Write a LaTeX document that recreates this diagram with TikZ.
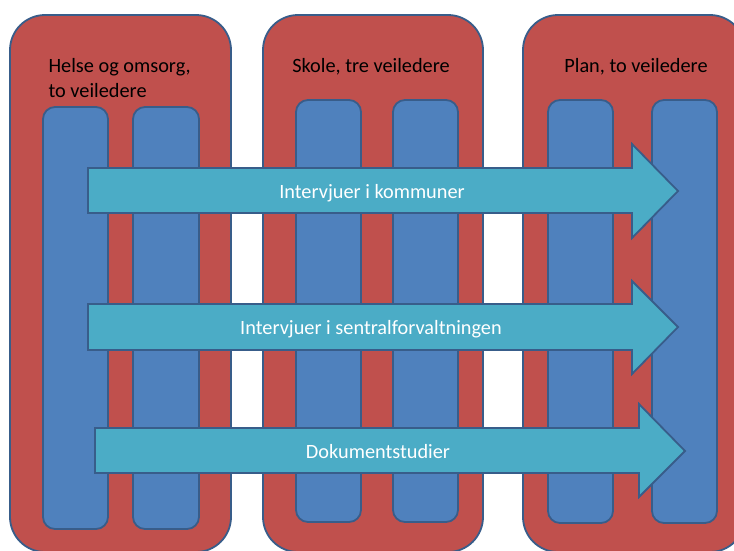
\documentclass[tikz,border=0pt]{standalone}
\usepackage{fontspec}
\setmainfont{Carlito}
\definecolor{cred}{HTML}{C0504D}
\definecolor{cblue}{HTML}{4F81BD}
\definecolor{ccyan}{HTML}{4BACC6}
\definecolor{cline}{HTML}{385D8A}
\begin{document}
\begin{tikzpicture}[x=1pt,y=-1pt,
  redbox/.style={fill=cred,draw=cline,line width=1.8pt,rounded corners=35pt},
  bluebox/.style={fill=cblue,draw=cline,line width=1.8pt,rounded corners=12pt},
  arrowshape/.style={fill=ccyan,draw=cline,line width=1.8pt,line join=miter},
  head/.style={font=\fontsize{20.3}{25}\selectfont,text=black,anchor=base},
  atext/.style={font=\fontsize{20.3}{25}\selectfont,text=white,anchor=base}]
\useasboundingbox (0,0) rectangle (734,550);
\clip (0,0) rectangle (734,550);
% red groups
\draw[redbox] (10,15) rectangle (231,552);
\draw[redbox] (263,15) rectangle (483,552);
\draw[redbox] (523,15) rectangle (745,552);
% blue columns
\draw[bluebox] (43,107) rectangle (108,529);
\draw[bluebox] (133,107) rectangle (199,529);
\draw[bluebox] (296,100) rectangle (361,522);
\draw[bluebox] (393,100) rectangle (458,522);
\draw[bluebox] (548,100) rectangle (613,523);
\draw[bluebox] (652,100) rectangle (717,523);
% headings
\node[head,anchor=base west] (h1) at (45,72) {Helse og omsorg,};
\node[head,anchor=base west] (h1b) at (45,97) {to veiledere};
\node[head] (h2) at (371,72) {Skole, tre veiledere};
\node[head] (h3) at (636,72) {Plan, to veiledere};
% arrows
\draw[arrowshape] (88,168) -- (632,168) -- (632,144) -- (678,191) -- (632,238) -- (632,213) -- (88,213) -- cycle;
\draw[arrowshape] (88,304) -- (632,304) -- (632,281) -- (678,327) -- (632,374) -- (632,350) -- (88,350) -- cycle;
\draw[arrowshape] (95,428) -- (639,428) -- (639,404) -- (685,451) -- (639,497) -- (639,473) -- (95,473) -- cycle;
\node[atext] (a1) at (372,198) {Intervjuer i kommuner};
\node[atext] (a2) at (371,334) {Intervjuer i sentralforvaltningen};
\node[atext] (a3) at (378,458) {Dokumentstudier};
\end{tikzpicture}
\end{document}
